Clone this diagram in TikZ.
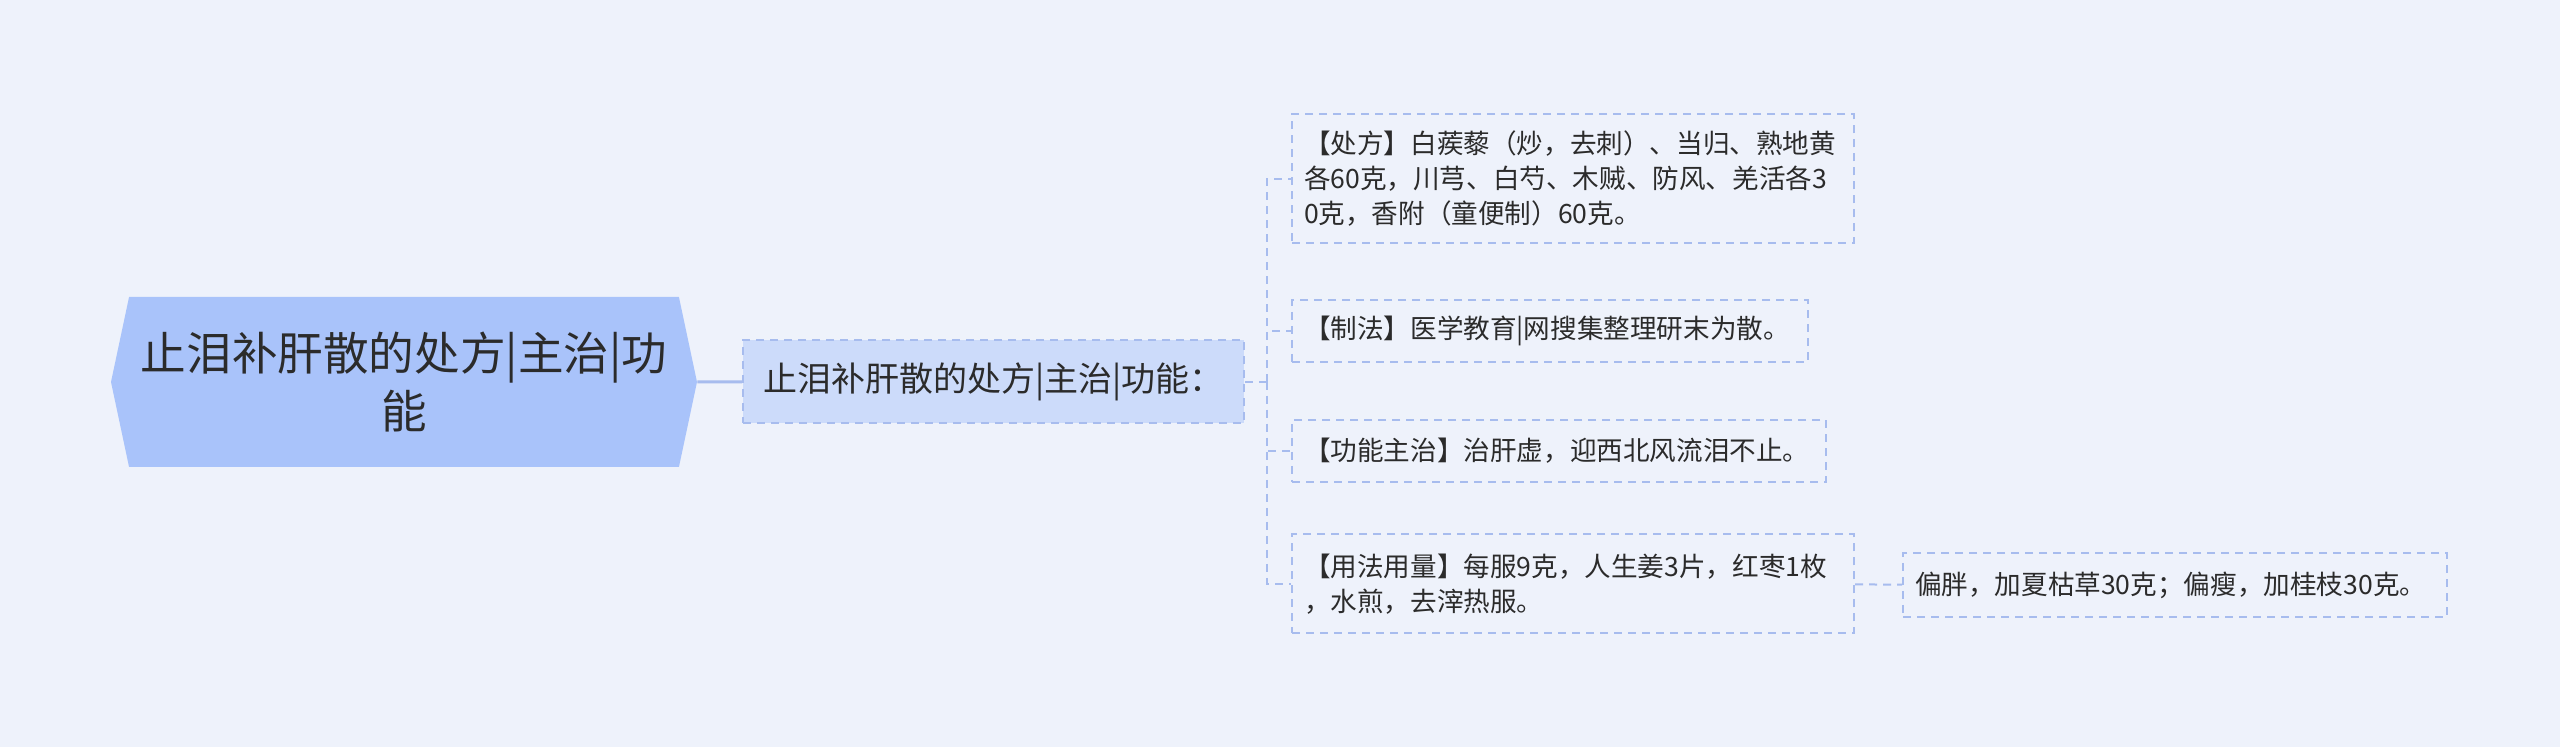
\documentclass[tikz,border=0pt]{standalone}
\usepackage{fontspec}
\newfontfamily\cjk{Noto Sans CJK SC}
\usetikzlibrary{shapes.symbols}
\definecolor{bgblue}{HTML}{EEF2FB}
\definecolor{rootfill}{HTML}{A9C3FA}
\definecolor{subfill}{HTML}{CCDBFA}
\definecolor{linkblue}{HTML}{A7BCEE}
\definecolor{txt}{HTML}{2B2B2B}
\tikzset{
  rootbox/.style={signal, signal to=west and east, signal pointer angle=156,
    fill=rootfill, minimum width=293pt, minimum height=85pt, align=center,
    text=txt, font=\cjk\fontsize{22.8}{29}\selectfont},
  subbox/.style={draw=linkblue, line width=1pt, dash pattern=on 4pt off 3pt,
    fill=subfill, minimum width=250.5pt, minimum height=41.5pt,
    text=txt, font=\cjk\fontsize{17}{20}\selectfont},
  leafbox/.style={draw=linkblue, line width=1pt, dash pattern=on 4pt off 3pt,
    anchor=west, align=left, inner xsep=6pt, inner ysep=8pt,
    text=txt, font=\cjk\fontsize{13.3}{17.5}\selectfont},
  link/.style={draw=linkblue, line width=1pt, dash pattern=on 4pt off 3pt}
}
\begin{document}
\begin{tikzpicture}[x=0.5pt,y=-0.5pt]
      \fill[bgblue] (0,0) rectangle (2560,747);
      \useasboundingbox (0,0) rectangle (2560,747);
      \node[rootbox] (root) at (404,382) {止泪补肝散的处方|主治|功\\能};
      \node[subbox] (sub) at (993.5,382) {止泪补肝散的处方|主治|功能：};
      \node[leafbox, text width=269pt, minimum height=64.5pt] (fang) at (1291,179)
        {【处方】白蒺藜（炒，去刺）、当归、熟地黄\\各60克，川芎、白芍、木贼、防风、羌活各3\\0克，香附（童便制）60克。};
      \node[leafbox, text width=246pt, minimum height=31pt] (zhi) at (1291,331)
        {【制法】医学教育|网搜集整理研末为散。};
      \node[leafbox, text width=255pt, minimum height=31pt] (gong) at (1291,451)
        {【功能主治】治肝虚，迎西北风流泪不止。};
      \node[leafbox, text width=269pt, minimum height=49.5pt] (yong) at (1291,584)
        {【用法用量】每服9克，人生姜3片，红枣1枚\\，水煎，去滓热服。};
      \node[leafbox, text width=260pt, minimum height=32pt] (jia) at (1902,585)
        {偏胖，加夏枯草30克；偏瘦，加桂枝30克。};
      \coordinate (brk) at (1267,382);
      \draw[linkblue, line width=1.5pt] (root) -- (sub);
      \begin{scope}[link]
        \draw (sub) -- (brk);
        \draw (brk) |- (fang);
        \draw (brk) |- (zhi);
        \draw (brk) |- (gong);
        \draw (brk) |- (yong);
        \draw (yong) -- (jia);
      \end{scope}
    \end{tikzpicture}
\end{document}
